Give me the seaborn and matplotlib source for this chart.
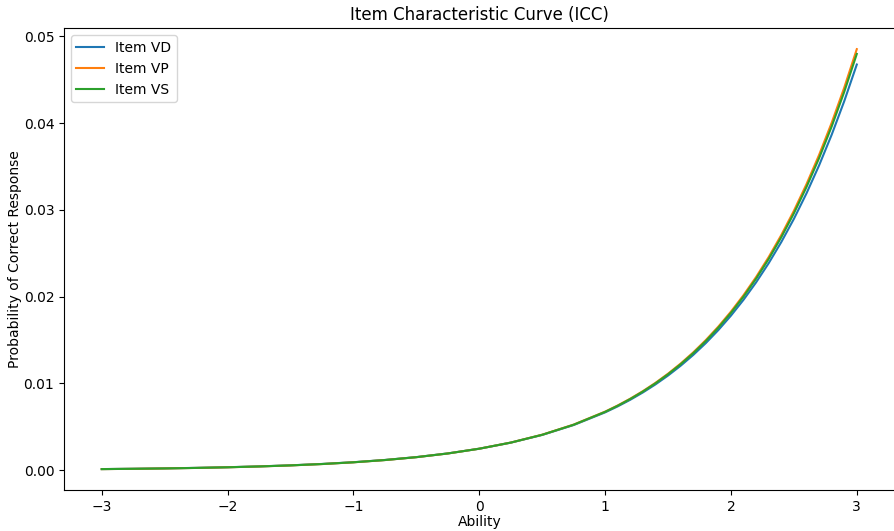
import matplotlib
matplotlib.use("Agg")
import matplotlib.pyplot as plt
import pandas as pd
import seaborn as sns

# ability grid and probabilities
ability = [-3.0, -2.75, -2.5, -2.25, -2.0, -1.75, -1.5, -1.25, -1.0, -0.75, -0.5, -0.25,
           0.0, 0.25, 0.5, 0.75, 1.0,
           1.1, 1.2, 1.3, 1.4, 1.5, 1.6, 1.7, 1.8, 1.9, 2.0,
           2.1, 2.2, 2.3, 2.4, 2.5, 2.6, 2.7, 2.8, 2.9, 3.0]

item_vd = [0.000125, 0.000161, 0.000206, 0.000264, 0.000339, 0.000435, 0.000557, 0.000715,
           0.000916, 0.001175, 0.001505, 0.001929, 0.002473, 0.003169, 0.004060, 0.005201,
           0.006660,
           0.007352, 0.008115, 0.008956, 0.009883, 0.010906, 0.012033, 0.013275, 0.014643,
           0.016151, 0.017810,
           0.019638, 0.021648, 0.023859, 0.026289, 0.028957, 0.031893, 0.035113, 0.038645,
           0.042516, 0.046750]
item_vp = [0.000121, 0.000155, 0.000199, 0.000257, 0.000330, 0.000425, 0.000546, 0.000703,
           0.000904, 0.001163, 0.001495, 0.001923, 0.002473, 0.003179, 0.004086, 0.005251,
           0.006746,
           0.007457, 0.008241, 0.009107, 0.010063, 0.011119, 0.012283, 0.013568, 0.014986,
           0.016549, 0.018272,
           0.020170, 0.022262, 0.024565, 0.027099, 0.029888, 0.032953, 0.036321, 0.040019,
           0.044076, 0.048522]
item_vs = [0.000122, 0.000157, 0.000201, 0.000259, 0.000333, 0.000428, 0.000550, 0.000707,
           0.000908, 0.001167, 0.001498, 0.001925, 0.002473, 0.003176, 0.004078, 0.005236,
           0.006720,
           0.007424, 0.008202, 0.009060, 0.010007, 0.011053, 0.012206, 0.013477, 0.014880,
           0.016426, 0.018128,
           0.020005, 0.022072, 0.024346, 0.026848, 0.029599, 0.032624, 0.035947, 0.039593,
           0.043592, 0.047971]

items = ["Item VD", "Item VP", "Item VS"]
series = [item_vd, item_vp, item_vs]

rows = []
for name, vals in zip(items, series):
    for a, p in zip(ability, vals):
        rows.append({"Ability": a, "Probability": p, "Item": name})
df = pd.DataFrame(rows)

fig, ax = plt.subplots(figsize=(8.95, 5.31), dpi=100)
fig.subplots_adjust(left=0.0715, right=0.9995, top=0.947, bottom=0.077)

sns.lineplot(data=df, x="Ability", y="Probability", hue="Item",
             palette=["#1f77b4", "#ff7f0e", "#2ca02c"], linewidth=1.5, ax=ax)

handles, labels = ax.get_legend_handles_labels()
ax.legend(handles, labels, loc="upper left")

ax.set_title("Item Characteristic Curve (ICC)")
ax.set_xlabel("Ability", labelpad=1)
ax.set_ylabel("Probability of Correct Response", labelpad=1)

plt.savefig("out.png", dpi=100)
plt.close()
